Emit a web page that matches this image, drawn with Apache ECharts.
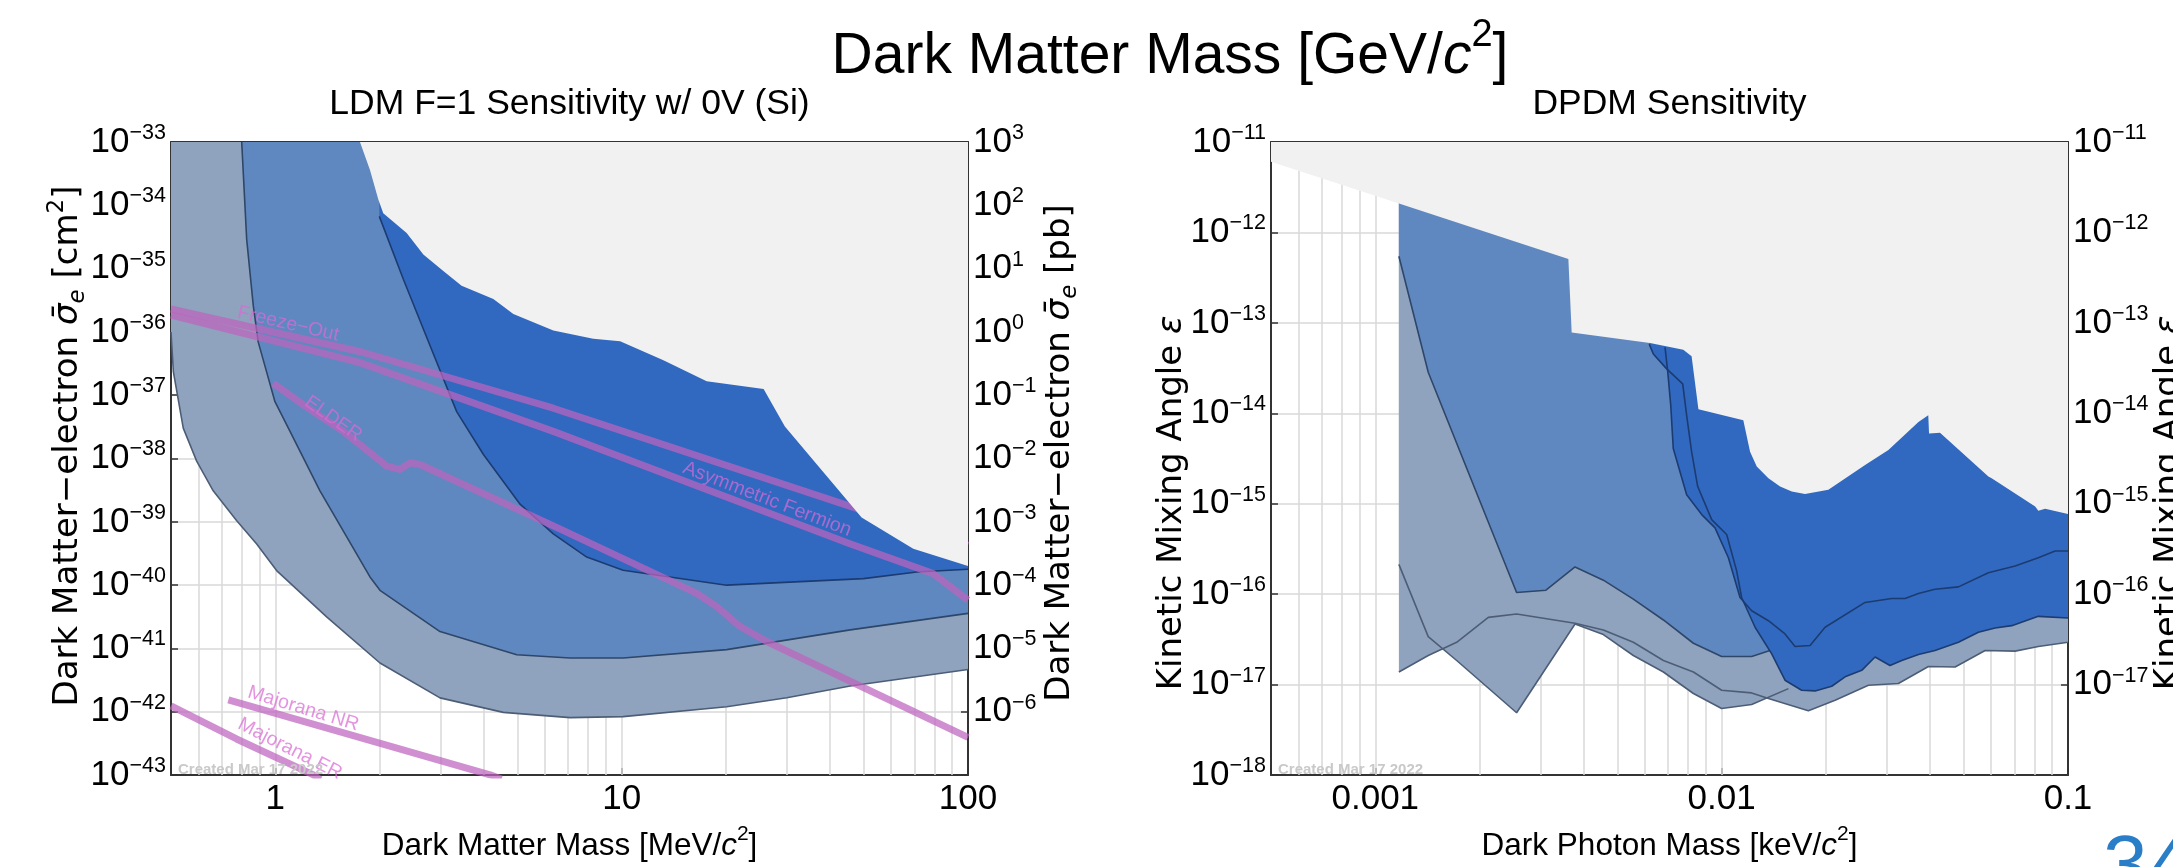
<!DOCTYPE html>
<html><head><meta charset="utf-8">
<script src="https://cdn.jsdelivr.net/npm/echarts@6/dist/echarts.min.js"></script>
<style>html,body{margin:0;padding:0;background:#fff;overflow:hidden}#c{width:2173px;height:867px}</style>
</head><body><div id="c"></div>
<script>
// ===================== LEFT PANEL: LDM F=1 (mass MeV/c^2, sigma_e in pb; 1 pb = 1e-36 cm^2) =====================
const ldmGrayBlueMass  = [0.5, 0.508, 0.5425, 0.593, 0.662, 0.773, 0.884, 1.009, 1.407, 2.006, 2.99, 4.555, 7.10, 10.1, 20.1, 29.98, 45.7, 100];
const ldmGrayBlueSigma = [1.0, 0.234, 3.02e-2, 9.1e-3, 3.09e-3, 1.05e-3, 4.47e-4, 1.70e-4, 3.16e-5, 5.9e-6, 1.66e-6, 9.8e-7, 8.1e-7, 8.4e-7, 1.2e-6, 1.67e-6, 2.55e-6, 4.65e-6];
const ldmMidBlueMass   = [0.80, 0.827, 0.864, 0.893, 0.944, 0.998, 1.103, 1.346, 1.877, 2.006, 2.99, 4.98, 7.10, 10.1, 20.1, 45.7, 100];
const ldmMidBlueSigma  = [1e3, 28.8, 2.6, 0.69, 0.234, 7.9e-2, 2.69e-2, 3.09e-3, 1.35e-4, 8.3e-5, 1.85e-5, 7.98e-6, 7.08e-6, 7.08e-6, 9.6e-6, 1.97e-5, 3.59e-5];
const ldmDarkBlueMass  = [1.997, 2.343, 2.797, 3.34, 3.99, 5.09, 6.35, 7.93, 10.1, 20.1, 49.9, 71.1, 100];
const ldmDarkBlueSigma = [66.8, 6.8, 0.612, 5.52e-2, 1.16e-2, 1.9e-3, 6.45e-4, 2.78e-4, 1.72e-4, 1.0e-4, 1.27e-4, 1.61e-4, 1.78e-4];
const ldmExcludedMass  = [1.756, 1.877, 1.985, 2.05, 2.395, 2.676, 3.056, 3.451, 4.262, 4.868, 6.35, 8.28, 9.9, 13.2, 17.6, 25.7, 29.6, 49.3, 69.5, 100];
const ldmExcludedSigma = [1e3, 360, 122, 75, 36.6, 16.7, 9.2, 5.35, 3.3, 1.92, 1.05, 0.78, 0.71, 0.356, 0.167, 0.125, 3.2e-2, 1.17e-3, 3.75e-4, 2.0e-4];
// theory curves (pb)
const freezeOutMass    = [0.5, 1.776, 6.35, 46.7, 100];
const freezeOutSigma   = [2.3, 0.482, 6.24e-2, 1.69e-3, 4.25e-4];
const asymFermionMass  = [0.5, 1.756, 6.35, 45.6, 79.4, 100];
const asymFermionSigma = [1.85, 0.328, 2.69e-2, 4.5e-4, 1.52e-4, 5.8e-5];
const elderMass  = [0.987, 1.205, 1.572, 2.097, 2.291, 2.449, 2.617, 6.49, 16.48, 18.82, 21.98, 26.24, 100];
const elderSigma = [0.154, 7.03e-2, 2.69e-2, 7.59e-3, 6.73e-3, 8.57e-3, 8.06e-3, 8.2e-4, 7.4e-5, 4.57e-5, 2.22e-5, 1.29e-5, 3.94e-7];
const majNRMass  = [0.732, 1.68, 4.17, 4.5];
const majNRSigma = [1.54e-6, 4.19e-7, 1.01e-7, 8.7e-8];
const majERMass  = [0.5, 0.773, 1.288, 1.35];
const majERSigma = [1.24e-6, 3.72e-7, 1.01e-7, 8.5e-8];
// curve labels
const curveLabelText  = ['Freeze\u2212Out', 'Asymmetric Fermion', 'ELDER', 'Majorana NR', 'Majorana ER'];
const curveLabelMass  = [1.09, 26.3, 1.47, 1.205, 1.103];
const curveLabelSigma = [1.34, 2.28e-3, 4.24e-2, 1.12e-6, 2.6e-7];
const curveLabelAngle = [-13, -21, -35, -17, -27];
// axes / ticks
const ldmMassTicks = [1, 10, 100];
const ldmGridMass = [0.6,0.7,0.8,0.9,1,2,3,4,5,6,7,8,9,10,20,30,40,50,60,70,80,90];
const ldmCm2TickExps = [-43,-42,-41,-40,-39,-38,-37,-36,-35,-34,-33];
const ldmPbTickExps = [-6,-5,-4,-3,-2,-1,0,1,2,3];
const PB_TO_CM2_EXP = -36;

// ===================== RIGHT PANEL: DPDM (mass keV/c^2, kinetic mixing) =====================
const dpExcludedMass = [5e-4, 1.165e-3, 3.61e-3, 3.69e-3, 6.21e-3, 7.75e-3, 8.19e-3, 8.57e-3, 1.155e-2, 1.208e-2, 1.263e-2, 1.365e-2, 1.475e-2, 1.594e-2, 1.741e-2, 2.033e-2, 2.595e-2, 3.03e-2, 3.70e-2, 3.95e-2, 3.97e-2, 4.27e-2, 5.89e-2, 6.02e-2, 8.04e-2, 8.21e-2, 8.59e-2, 0.1];
const dpExcludedEps  = [6.04e-12, 2.1e-12, 5.09e-13, 7.83e-14, 5.98e-14, 5.06e-14, 4.27e-14, 1.11e-14, 8.38e-15, 3.76e-15, 2.58e-15, 1.92e-15, 1.55e-15, 1.37e-15, 1.28e-15, 1.43e-15, 2.69e-15, 3.93e-15, 8.04e-15, 9.51e-15, 5.98e-15, 6.08e-15, 2.0e-15, 1.91e-15, 9.35e-16, 8.38e-16, 8.81e-16, 7.7e-16];
const dpMidBlueMass = [1.17e-3, 1.422e-3, 2.097e-3, 2.559e-3, 3.11e-3, 3.773e-3, 4.556e-3, 5.56e-3, 6.79e-3, 8.29e-3, 1e-2, 1.221e-2, 1.379e-2];
const dpMidBlueEps  = [5.45e-13, 2.85e-14, 6.97e-16, 1.045e-16, 1.107e-16, 2.0e-16, 1.43e-16, 8.81e-17, 5.19e-17, 2.87e-17, 2.05e-17, 2.05e-17, 2.39e-17];
const dpGrayAMass = [1.17e-3, 1.422e-3, 1.718e-3, 2.559e-3, 3.773e-3, 4.556e-3, 5.56e-3, 6.79e-3, 8.29e-3, 1e-2, 1.221e-2, 1.559e-2];
const dpGrayAEps  = [2.14e-16, 3.40e-17, 1.85e-17, 4.89e-18, 4.69e-17, 3.58e-17, 2.10e-17, 1.38e-17, 7.98e-18, 5.46e-18, 6.04e-18, 9.04e-18];
const dpGrayBMass = [1.17e-3, 1.422e-3, 1.718e-3, 2.12e-3, 2.559e-3, 3.773e-3, 4.556e-3, 5.56e-3, 6.79e-3, 8.29e-3, 1e-2, 1.221e-2, 1.365e-2, 1.780e-2, 2.126e-2, 2.653e-2, 3.238e-2, 3.954e-2, 4.721e-2, 5.764e-2, 7.035e-2, 8.21e-2, 0.1];
const dpGrayBEps  = [1.38e-17, 2.10e-17, 2.94e-17, 5.55e-17, 6.04e-17, 4.77e-17, 4.03e-17, 2.94e-17, 1.85e-17, 1.38e-17, 8.67e-18, 8.11e-18, 7.03e-18, 5.14e-18, 6.73e-18, 9.84e-18, 1.03e-17, 1.59e-17, 1.57e-17, 2.39e-17, 2.35e-17, 2.64e-17, 2.94e-17];
const dpDarkAMass = [6.865e-3, 6.99e-3, 7.13e-3, 7.25e-3, 7.925e-3, 8.76e-3, 9.57e-3, 1.046e-2, 1.130e-2, 1.221e-2, 1.365e-2, 1.524e-2, 1.629e-2, 1.80e-2, 1.989e-2, 2.595e-2, 3.098e-2, 3.385e-2, 3.70e-2, 4.13e-2, 4.827e-2, 5.89e-2, 7.035e-2, 8.21e-2, 9.18e-2, 0.1];
const dpDarkAEps  = [5.36e-14, 2.85e-14, 1.225e-14, 4.09e-15, 1.256e-15, 7.59e-16, 5.41e-16, 2.53e-16, 9.2e-17, 6.56e-17, 5.09e-17, 3.64e-17, 2.64e-17, 2.71e-17, 4.31e-17, 8.11e-17, 8.97e-17, 8.97e-17, 1.02e-16, 1.135e-16, 1.205e-16, 1.73e-16, 2.05e-16, 2.53e-16, 3.0e-16, 3.0e-16];
const dpDarkBMass = [6.18e-3, 6.35e-3, 6.94e-3, 7.72e-3, 7.925e-3, 8.19e-3, 8.53e-3, 9.36e-3, 1.034e-2, 1.105e-2, 1.142e-2, 1.249e-2, 1.395e-2, 1.524e-2, 1.702e-2, 1.861e-2, 2.079e-2, 2.272e-2, 2.538e-2, 2.773e-2, 3.063e-2, 3.311e-2, 3.70e-2, 4.13e-2, 4.827e-2, 5.51e-2, 6.16e-2, 6.88e-2, 8.21e-2, 0.1];
const dpDarkBEps  = [5.83e-14, 4.53e-14, 3.1e-14, 2.12e-14, 9.5e-15, 3.77e-15, 1.55e-15, 6.67e-16, 4.57e-16, 1.81e-16, 9.2e-17, 4.31e-17, 2.19e-17, 1.12e-17, 8.67e-18, 8.53e-18, 9.6e-18, 1.22e-17, 1.44e-17, 2.02e-17, 1.63e-17, 1.85e-17, 2.16e-17, 2.39e-17, 2.94e-17, 3.79e-17, 4.23e-17, 4.49e-17, 5.69e-17, 5.46e-17];
const dpMassTicks = [0.001, 0.01, 0.1];
const dpGridMass = [0.0006,0.0007,0.0008,0.0009,0.001,0.002,0.003,0.004,0.005,0.006,0.007,0.008,0.009,0.01,0.02,0.03,0.04,0.05,0.06,0.07,0.08,0.09];
const dpEpsTickExps = [-18,-17,-16,-15,-14,-13,-12,-11];
const dpEpsRightTickExps = [-17,-16,-15,-14,-13,-12,-11];

// ===================== styling =====================
const SANS = 'Liberation Sans';
const WIDE = 'DejaVu Sans';
const C_GRAYBLUE = '#8fa3be', C_MID = '#6088c0', C_DARK = '#3169c0', C_EXCL = '#f1f1f1';
const L_GRAYBLUE = '#4d5d76', L_MID = '#2e4668', L_DARK = '#1c3b70';
const C_MAGENTA = 'rgba(190,100,190,0.72)';
const GRID_COLOR = '#d9d9d9';

const zip = (xs, ys) => xs.map((x, i) => [x, ys[i]]);

const expRich = {
  b: {fontSize: 35, lineHeight: 40, fontFamily: SANS, color: '#000'},
  s: {fontSize: 21.5, lineHeight: 22, verticalAlign: 'top', fontFamily: SANS, color: '#000'}
};
function expFormatter(exps, offset) {
  return function (v) {
    const e = Math.round(Math.log10(v)) + offset;
    if (exps.indexOf(e) < 0) return '';
    return '{b|10}{s|' + (e < 0 ? '\u2212' : '') + Math.abs(e) + '}';
  };
}
function tickFormatter(ticks) {
  return function (v) {
    const t = ticks.find(t => Math.abs(v / t - 1) < 1e-6);
    return t === undefined ? '' : String(t);
  };
}
const axLine = {show: true, onZero: false, lineStyle: {color: '#333', width: 2}};
const axTick = {show: true, inside: true, length: 7, lineStyle: {color: '#333', width: 1.5}};

function yAx(grid, min, max, pos, exps, offset, split) {
  return {
    type: 'log', logBase: 10, gridIndex: grid, min: min, max: max, interval: 1, position: pos,
    axisLine: axLine, axisTick: axTick,
    axisLabel: {show: true, margin: 5, formatter: expFormatter(exps, offset), rich: expRich},
    splitLine: {show: split, lineStyle: {color: GRID_COLOR, width: 1.5}},
    minorTick: {show: false}, minorSplitLine: {show: false}
  };
}
const nameRich = {
  t: {fontSize: 31.5, lineHeight: 44, fontFamily: SANS, color: '#000'},
  i: {fontSize: 31.5, lineHeight: 44, fontFamily: SANS, fontStyle: 'italic', color: '#000'},
  p: {fontSize: 21, lineHeight: 21, verticalAlign: 'top', fontFamily: SANS, color: '#000'}
};
function xAx(grid, min, max, pos, ticks, name) {
  const bottom = pos === 'bottom';
  return {
    type: 'log', logBase: 10, gridIndex: grid, min: min, max: max, position: pos,
    axisLine: axLine, axisTick: axTick,
    axisLabel: {show: bottom, margin: 4, fontSize: 35, lineHeight: 40, fontFamily: SANS, color: '#000', formatter: tickFormatter(ticks)},
    splitLine: {show: false}, minorTick: {show: false},
    name: bottom ? name : '', nameLocation: 'middle', nameGap: 40,
    nameTextStyle: {rich: nameRich}
  };
}

function band(xs, ys, xi, yi, fill, lineColor, showLine, z) {
  return {
    type: 'line', xAxisIndex: xi, yAxisIndex: yi, data: zip(xs, ys), symbol: 'none', z: z, silent: true,
    lineStyle: showLine ? {color: lineColor, width: 1.6} : {width: 0, opacity: 0},
    areaStyle: {color: fill, opacity: 1, origin: 'end'}
  };
}
function edge(xs, ys, xi, yi, color, z) {
  return {type: 'line', xAxisIndex: xi, yAxisIndex: yi, data: zip(xs, ys), symbol: 'none', z: z, silent: true,
    lineStyle: {color: color, width: 1.6}};
}
function theory(xs, ys) {
  return {type: 'line', xAxisIndex: 0, yAxisIndex: 0, data: zip(xs, ys), symbol: 'none', z: 6, silent: true,
    lineStyle: {color: C_MAGENTA, width: 7, cap: 'butt', join: 'round'}};
}
function gridHolder(xi, yi, xs, x0, y0) {
  return {type: 'line', xAxisIndex: xi, yAxisIndex: yi, data: [[x0, y0]], symbol: 'none', silent: true,
    lineStyle: {opacity: 0},
    markLine: {z: 1, silent: true, precision: 8, symbol: ['none', 'none'], animation: false, label: {show: false},
      lineStyle: {color: GRID_COLOR, width: 1.5, type: 'solid'},
      data: xs.map(v => ({xAxis: v}))}};
}

const series = [
  gridHolder(0, 0, ldmGridMass, 0.5, 1e-7),
  band(ldmGrayBlueMass, ldmGrayBlueSigma, 0, 0, C_GRAYBLUE, L_GRAYBLUE, true, 2),
  band(ldmMidBlueMass, ldmMidBlueSigma, 0, 0, C_MID, L_MID, true, 3),
  band(ldmDarkBlueMass, ldmDarkBlueSigma, 0, 0, C_DARK, L_DARK, true, 4),
  theory(freezeOutMass, freezeOutSigma),
  theory(asymFermionMass, asymFermionSigma),
  theory(elderMass, elderSigma),
  theory(majNRMass, majNRSigma),
  theory(majERMass, majERSigma),
  band(ldmExcludedMass, ldmExcludedSigma, 0, 0, C_EXCL, null, false, 7),
  {
    type: 'scatter', xAxisIndex: 0, yAxisIndex: 0, symbolSize: 1, z: 8, silent: true,
    itemStyle: {color: 'rgba(0,0,0,0)'},
    data: curveLabelText.map((t, i) => ({
      value: [curveLabelMass[i], curveLabelSigma[i]],
      label: {show: true, position: 'inside', formatter: t, rotate: curveLabelAngle[i],
        fontSize: 19.5, fontFamily: SANS, color: 'rgba(218,105,212,0.9)'}
    }))
  },
  // right panel
  gridHolder(2, 2, dpGridMass, 5e-4, 1e-18),
  band(dpGrayAMass, dpGrayAEps, 2, 2, C_GRAYBLUE, null, false, 2),
  band(dpGrayBMass, dpGrayBEps, 2, 2, C_GRAYBLUE, null, false, 2),
  edge(dpGrayAMass, dpGrayAEps, 2, 2, L_GRAYBLUE, 3),
  edge(dpGrayBMass, dpGrayBEps, 2, 2, L_GRAYBLUE, 3),
  band(dpMidBlueMass, dpMidBlueEps, 2, 2, C_MID, L_MID, true, 4),
  band(dpDarkBMass, dpDarkBEps, 2, 2, C_DARK, null, false, 5),
  band(dpDarkAMass, dpDarkAEps, 2, 2, C_DARK, null, false, 5),
  edge(dpDarkBMass, dpDarkBEps, 2, 2, L_DARK, 6),
  edge(dpDarkAMass, dpDarkAEps, 2, 2, L_DARK, 6),
  band(dpExcludedMass, dpExcludedEps, 2, 2, C_EXCL, null, false, 7)
];

const yNameRich = {
  t: {fontSize: 34, lineHeight: 44, fontFamily: WIDE, color: '#000'},
  g: {fontSize: 34, lineHeight: 44, fontFamily: WIDE, fontStyle: 'italic', color: '#000'},
  e: {fontSize: 23, lineHeight: 23, fontFamily: WIDE, fontStyle: 'italic', verticalAlign: 'bottom', color: '#000'},
  p: {fontSize: 23, lineHeight: 23, fontFamily: WIDE, verticalAlign: 'top', color: '#000'}
};
function vText(x, y, text) {
  return {type: 'text', x: x, y: y, rotation: Math.PI / 2, z: 100, silent: true,
    style: {text: text, rich: yNameRich, align: 'center', verticalAlign: 'middle', textAlign: 'center', textVerticalAlign: 'middle'}};
}
function hText(x, y, text, font, color, align) {
  return {type: 'text', x: x, y: y, z: 100, silent: true,
    style: {text: text, font: font, fill: color, align: align || 'center', verticalAlign: 'top', textAlign: align || 'center', textVerticalAlign: 'top'}};
}

const option = {
  animation: false,
  backgroundColor: '#ffffff',
  textStyle: {fontFamily: SANS},
  grid: [
    {left: 171, top: 142, width: 797, height: 638},
    {left: 1271, top: 142, width: 797, height: 638}
  ],
  xAxis: [
    xAx(0, 0.5, 100, 'bottom', ldmMassTicks, '{t|Dark Matter Mass [MeV/}{i|c}{p|2}{t|]}'),
    xAx(0, 0.5, 100, 'top', ldmMassTicks, ''),
    xAx(1, 5e-4, 0.1, 'bottom', dpMassTicks, '{t|Dark Photon Mass [keV/}{i|c}{p|2}{t|]}'),
    xAx(1, 5e-4, 0.1, 'top', dpMassTicks, '')
  ],
  yAxis: [
    yAx(0, 1e-7, 1e3, 'left', ldmCm2TickExps, PB_TO_CM2_EXP, true),
    yAx(0, 1e-7, 1e3, 'right', ldmPbTickExps, 0, false),
    yAx(1, 1e-18, 1e-11, 'left', dpEpsTickExps, 0, true),
    yAx(1, 1e-18, 1e-11, 'right', dpEpsRightTickExps, 0, false)
  ],
  series: series,
  graphic: [
    {type: 'text', x: 1170, y: 17, z: 100, silent: true,
      style: {text: '{a|Dark Matter Mass [GeV/}{i|c}{s|2}{a|]}', align: 'center', verticalAlign: 'top', textAlign: 'center', textVerticalAlign: 'top',
        rich: {
          a: {fontSize: 57, lineHeight: 80, fontFamily: SANS, color: '#000'},
          i: {fontSize: 57, lineHeight: 80, fontFamily: SANS, fontStyle: 'italic', color: '#000'},
          s: {fontSize: 38, lineHeight: 38, fontFamily: SANS, verticalAlign: 'top', color: '#000'}
        }}},
    hText(569.5, 86, 'LDM F=1 Sensitivity w/ 0V (Si)', '35.5px "Liberation Sans"', '#000'),
    hText(1669.5, 86, 'DPDM Sensitivity', '35.5px "Liberation Sans"', '#000'),
    vText(68, 446, '{t|Dark Matter\u2212electron }{g|\u03c3\u0304}{e|e}{t| [cm}{p|2}{t|]}'),
    vText(1060, 453, '{t|Dark Matter\u2212electron }{g|\u03c3\u0304}{e|e}{t| [pb]}'),
    vText(1172, 503, '{t|Kinetic Mixing Angle }{g|\u03b5}'),
    vText(2169, 503, '{t|Kinetic Mixing Angle }{g|\u03b5}'),
    hText(178, 762, 'Created Mar 17 2022', 'bold 15px "Liberation Sans"', '#c9c9c9', 'left'),
    hText(1278, 762, 'Created Mar 17 2022', 'bold 15px "Liberation Sans"', '#c9c9c9', 'left'),
    hText(2103, 829, '34', '80px "Liberation Sans"', '#2a7ec8', 'left')
  ]
};

const chart = echarts.init(document.getElementById('c'), null, {renderer: 'canvas', width: 2173, height: 867});
chart.setOption(option);
</script></body></html>
